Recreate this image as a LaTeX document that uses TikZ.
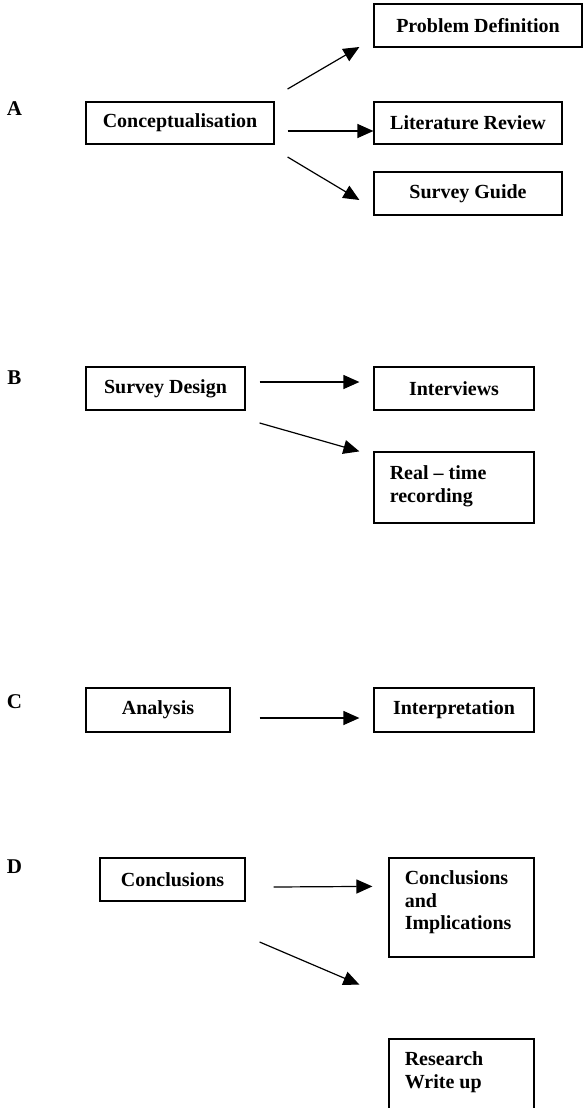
\documentclass[tikz,border=0pt]{standalone}
\usepackage{fontspec}
\setmainfont{Liberation Serif}
\usetikzlibrary{arrows.meta,calc}
\begin{document}
\begin{tikzpicture}[x=0.5pt,y=-0.5pt,
  every node/.style={font=\fontsize{10}{11.25}\selectfont\bfseries, inner sep=0pt},
  stagebox/.style={draw, line width=0.6pt, rectangle},
  boxtext/.style={anchor=north west, align=left},
  letter/.style={font=\fontsize{10.5}{12}\selectfont\bfseries},
  arr/.style={line width=0.6pt, -{Triangle[length=8pt,width=7pt]}}]
\useasboundingbox (0,0) rectangle (585,1108);
\clip (0,0) rectangle (585,1108);

% Stage A
\node[letter] (labA) at (14.5,109) {A};
\node[stagebox, minimum width=94pt, minimum height=21pt] (concept) at (180,123) {Conceptualisation};
\node[stagebox, minimum width=104pt, minimum height=21.5pt] (prob) at (478,25.5) {Problem Definition};
\node[stagebox, minimum width=94pt, minimum height=21pt] (lit) at (468,123) {Literature Review};
\node[stagebox, minimum width=94pt, minimum height=21.5pt] (guide) at (468,193.5) {Survey Guide};
\draw[arr] ($(concept.east)+(13,-34)$) -- ($(prob.west)+(-14,21.5)$);
\draw[arr] ($(concept.east)+(13,8)$) -- ($(lit.west)+(0,8)$);
\draw[arr] ($(concept.east)+(13,34)$) -- ($(guide.west)+(-14,6.5)$);

% Stage B
\node[letter] (labB) at (14.5,378) {B};
\node[stagebox, minimum width=79.5pt, minimum height=21.5pt] (design) at (165.5,388.5) {Survey Design};
\node[stagebox, minimum width=80pt, minimum height=21.5pt] (interviews) at (454,388.5) {Interviews};
\node[stagebox, minimum width=80pt, minimum height=35.5pt] (realtime) at (454,487.5) {};
\node[boxtext] (realtimeText) at ($(realtime.north west)+(16,14)$) {Real -- time\\recording};
\draw[arr] ($(design.east)+(14,-6.5)$) -- ($(interviews.west)+(-14,-6.5)$);
\draw[arr] ($(design.east)+(14,34.5)$) -- ($(realtime.north west)+(-14,0)$);

% Stage C
\node[letter] (labC) at (14.5,702) {C};
\node[stagebox, minimum width=72pt, minimum height=22pt] (analysis) at (158,710) {Analysis};
\node[stagebox, minimum width=80pt, minimum height=22pt] (interp) at (454,710) {Interpretation};
\draw[arr] ($(analysis.east)+(29,8)$) -- ($(interp.west)+(-14,8)$);

% Stage D
\node[letter] (labD) at (14.5,867) {D};
\node[stagebox, minimum width=72.5pt, minimum height=21.5pt] (concl) at (172.5,879.5) {Conclusions};
\node[stagebox, minimum width=72.5pt, minimum height=49.5pt] (implic) at (461.5,907.5) {};
\node[boxtext] (implicText) at ($(implic.north west)+(16,13)$) {Conclusions\\and\\Implications};
\node[stagebox, minimum width=72.5pt, minimum height=50pt] (writeup) at (461.5,1089) {};
\node[boxtext] (writeupText) at ($(writeup.north west)+(16,13)$) {Research\\Write up};
\draw[arr] ($(concl.east)+(28,7.5)$) -- ($(implic.north west)+(-16,29)$);
\draw[arr] ($(concl.east)+(14,62.5)$) -- ($(implic.south west)+(-29,27)$);
\end{tikzpicture}
\end{document}
